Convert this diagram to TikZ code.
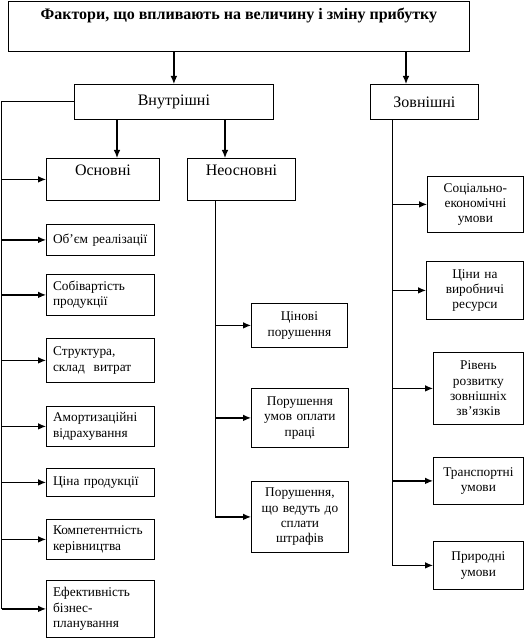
\documentclass[tikz,border=0pt]{standalone}
\usepackage{fontspec}
\setmainfont{Liberation Serif}
\usetikzlibrary{arrows.meta}
\newcommand{\topbox}[3]{\parbox[c][#2][t]{#1}{\centering\vspace*{5pt}#3}}
\begin{document}
\begin{tikzpicture}[x=0.75pt,y=-0.75pt,
  box/.style={draw, line width=0.6pt, inner sep=0pt, anchor=north west, font=\fontsize{10}{11.5}\selectfont},
  lbox/.style={box, align=left, inner xsep=5pt},
  cbox/.style={box, align=center, inner xsep=2pt},
  hbox/.style={box, align=center, font=\fontsize{12}{14}\selectfont},
  arr/.style={line width=0.9pt, -{Latex[length=6pt,width=5pt]}},
  trunk/.style={line width=0.7pt}]
\useasboundingbox (0,0) rectangle (524,638);
% header and groups
\node[box, font=\fontsize{12}{14}\selectfont\bfseries] (top) at (8,1) {\topbox{345.75pt}{37.5pt}{Фактори, що впливають на величину і зміну прибутку}};
\node[hbox, text width=149.25pt, minimum height=26.25pt] (vnut) at (74,84) {Внутрішні};
\node[hbox, text width=81pt, minimum height=26.25pt] (zovn) at (370,84) {Зовнішні};
\node[box, font=\fontsize{12}{14}\selectfont] (osn) at (46,158) {\topbox{84.75pt}{31.5pt}{Основні}};
\node[box, font=\fontsize{12}{14}\selectfont] (neosn) at (187,158) {\topbox{81pt}{31.5pt}{Неосновні}};
% left column
\node[lbox, text width=71pt, minimum height=23.25pt] (l1) at (46,224) {Об’єм реалізації};
\node[lbox, text width=71pt, minimum height=30.75pt] (l2) at (46,274) {Собівартість\\продукції};
\node[lbox, text width=71pt, minimum height=33pt] (l3) at (46,338) {Структура,\\склад\ \ витрат};
\node[lbox, text width=71pt, minimum height=30pt] (l4) at (46,406) {Амортизаційні\\відрахування};
\node[lbox, text width=71pt, minimum height=21pt] (l5) at (46,468) {Ціна продукції};
\node[lbox, text width=71pt, minimum height=30pt] (l6) at (46,519) {Компетентність\\керівництва};
\node[lbox, text width=71pt, minimum height=42.75pt] (l7) at (46,580) {Ефективність\\бізнес-\\планування};
% middle column
\node[cbox, text width=68pt, minimum height=33pt] (m1) at (251,303) {Цінові\\порушення};
\node[cbox, text width=68.75pt, minimum height=44.25pt] (m2) at (251,388) {Порушення\\умов оплати\\праці};
\node[cbox, text width=68.75pt, minimum height=53.25pt] (m3) at (251,481) {Порушення,\\що ведуть до\\сплати\\штрафів};
% right column
\node[cbox, text width=68pt, minimum height=42pt] (r1) at (427,176) {Соціально-\\економічні\\умови};
\node[cbox, text width=68.75pt, minimum height=43.5pt] (r2) at (426,261) {Ціни на\\виробничі\\ресурси};
\node[cbox, text width=63.5pt, minimum height=54pt] (r3) at (433,352) {Рівень\\розвитку\\зовнішніх\\зв’язків};
\node[cbox, text width=63.5pt, minimum height=35.25pt] (r4) at (433,457) {Транспортні\\умови};
\node[cbox, text width=63.5pt, minimum height=36pt] (r5) at (433,541) {Природні\\умови};
% connector x positions
\coordinate (zx) at (406,0);
\coordinate (ox) at (117,0);
\coordinate (nx) at (225,0);
\coordinate (lx) at (1.5,0);
\coordinate (mx) at (215,0);
\coordinate (rx) at (392,0);
% connectors
\draw[arr] (top.south -| vnut.north) -- (vnut.north);
\draw[arr] (top.south -| zx) -- (zovn.north -| zx);
\draw[arr] (vnut.south -| ox) -- (osn.north -| ox);
\draw[arr] (vnut.south -| nx) -- (neosn.north -| nx);
\draw[trunk] (vnut.west) -- (vnut.west -| lx) -- (l7.west -| lx);
\foreach \n in {osn,l1,l2,l3,l4,l5,l6,l7} \draw[arr] (\n.west -| lx) -- (\n.west);
\draw[trunk] (neosn.south -| mx) -- (m3.west -| mx);
\foreach \n in {m1,m2,m3} \draw[arr] (\n.west -| mx) -- (\n.west);
\draw[trunk] (zovn.south -| rx) -- (r5.west -| rx);
\foreach \n in {r1,r2,r3,r4,r5} \draw[arr] (\n.west -| rx) -- (\n.west);
\end{tikzpicture}
\end{document}
